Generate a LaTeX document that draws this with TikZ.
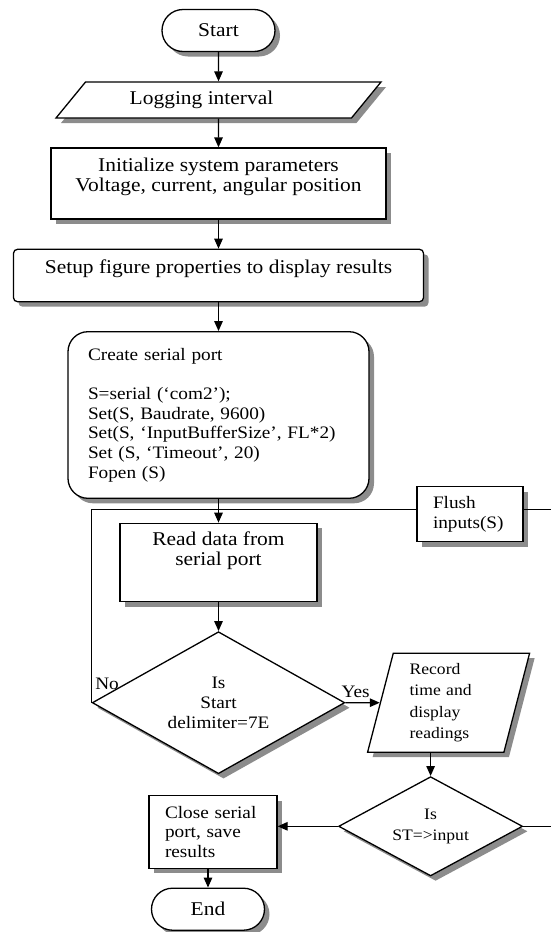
\documentclass[tikz,border=0pt]{standalone}
\usepackage{fontspec}
\setmainfont{Liberation Serif}[FakeStretch=1.1]
\usetikzlibrary{shapes.geometric,shapes.misc,shadows,arrows.meta,positioning}

\newcommand\bigtxt{\fontsize{19.5}{20}\selectfont}
\newcommand\midtxt{\fontsize{17.5}{19.7}\selectfont}
\newcommand\smalltxt{\fontsize{16}{21.5}\selectfont}

\tikzset{
  base/.style={drop shadow={shadow xshift=5pt, shadow yshift=-5pt, fill=black!45, opacity=1},
    draw, line width=1.3pt, fill=white, inner sep=0pt},
  term/.style={base, rounded rectangle, minimum width=113pt, minimum height=42pt, font=\bigtxt},
  io/.style={base, trapezium, trapezium stretches body},
  proc/.style={base, rectangle, align=center},
  decide/.style={base, diamond, align=center},
  arr/.style={line width=1.3pt, -{Triangle[length=10pt,width=8.5pt]}},
  link/.style={line width=1.3pt},
  lbl/.style={inner sep=1pt, font=\midtxt}
}

\begin{document}
\begin{tikzpicture}[x=1pt,y=1pt]
\useasboundingbox (0,0) rectangle (550,-932);

\node[term] (start) at (218.5,-30.5) {Start};
\node[io, trapezium left angle=31, trapezium right angle=149, minimum width=325pt, minimum height=36pt, font=\bigtxt] (log) at (218.5,-100) {Logging interval\hspace*{34pt}};
\node[proc, minimum width=335pt, minimum height=71pt, text depth=18pt, font=\bigtxt] (init) at (218.5,-183.5) {Initialize system parameters\\Voltage, current, angular position};
\node[proc, rounded corners=4pt, minimum width=410pt, minimum height=52.4pt, text depth=18pt, font=\bigtxt] (setup) at (218.5,-275.5) {Setup figure properties to display results};
\node[proc, rounded corners=20pt, align=left, text width=261pt, minimum width=301pt, minimum height=166.6pt, font=\midtxt] (create) at (218.5,-415) {Create serial port\\[19.7pt]
  S=serial (‘com2’);\\
  Set(S, Baudrate, 9600)\\
  Set(S, ‘InputBufferSize’, FL*2)\\
  Set (S, ‘Timeout’, 20)\\
  Fopen (S)};
\node[proc, align=left, text width=74pt, minimum width=106pt, minimum height=55pt, font=\midtxt] (flush) at (470,-514.2) {Flush\\inputs(S)};
\node[proc, minimum width=197pt, minimum height=78.4pt, text depth=28pt, font=\bigtxt] (read) at (218.5,-562.5) {Read data from\\serial port};
\node[decide, shape aspect=1.78, minimum width=252.5pt, minimum height=142pt, font=\midtxt] (dec1) at (218.5,-702.7) {Is\\Start\\delimiter=7E};
\node[io, trapezium left angle=72, trapezium right angle=108, minimum width=162pt, minimum height=99pt, align=left, text width=78pt, font=\smalltxt] (record) at (448.6,-702.7) {Record\\time and\\display\\readings};
\node[decide, shape aspect=1.85, minimum width=184pt, minimum height=99.3pt, font=\smalltxt] (dec2) at (430.6,-826.3) {Is\\ST=>input};
\node[proc, align=left, text width=96pt, minimum width=128pt, minimum height=72.6pt, font=\midtxt] (close) at (213,-832) {Close serial\\port, save\\results};
\node[term] (end) at (208,-909.2) {End};

\node[lbl, above right=12pt and 2.5pt of dec1.west] (no) {No};

\draw[arr] (start) -- (log);
\draw[arr] (log) -- (init);
\draw[arr] (init) -- (setup);
\draw[arr] (setup) -- (create);
\draw[arr] (create) -- (read);
\draw[arr] (read) -- (dec1);
\draw[arr] (dec1) -- (record) node[lbl, above=3pt, pos=0.3] (yes) {Yes};
\draw[arr] (record.south -| dec2.north) -- (dec2.north);
\draw[arr] (dec2.west) -- (dec2.west -| close.east);
\draw[arr] (close.south -| end.north) -- (end.north);

% loop back to the read step
\coordinate (join) at (218.5,-509.3);
\draw[link] (dec1.west) |- (join);
\draw[link] (flush.west |- join) -- (join);
\draw[link] (dec2.east) -- ++(40,0) |- (flush.east |- join);
\end{tikzpicture}
\end{document}
